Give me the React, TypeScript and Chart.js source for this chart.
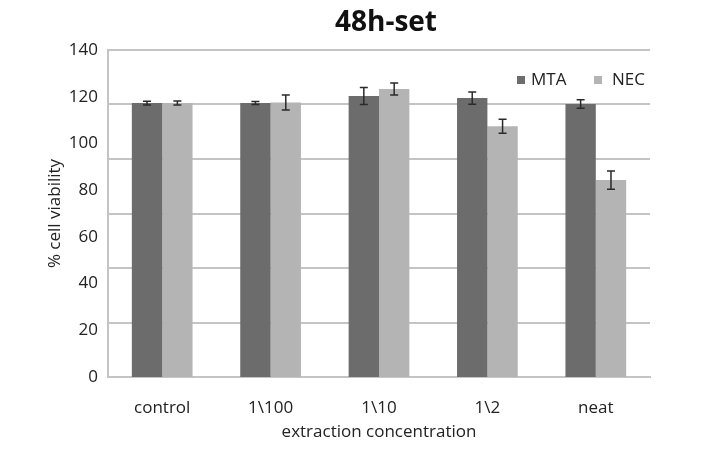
import React, { useEffect, useRef } from "react";
import { Chart, registerables } from "chart.js";

Chart.register(...registerables);

const chartTitle = "48h-set";
const categories = ["control", "1\\100", "1\\10", "1\\2", "neat"];
const seriesNames = ["MTA", "NEC"];
const mtaValues = [117.3, 117.3, 120.3, 119.4, 116.9];
const necValues = [117.3, 117.5, 123.3, 107.4, 84.3];
const mtaErrors = [0.8, 0.6, 3.6, 2.6, 1.8];
const necErrors = [0.9, 3.2, 2.6, 3.0, 3.9];
const yTickValues = [0, 20, 40, 60, 80, 100, 120, 140];
const xTitle = "extraction concentration";
const yTitle = "% cell viability";

const FONT = "'Open Sans', 'DejaVu Sans', sans-serif";
const TEXT = "#222222";
const GRID = "#c4c4c4";
const MTA_COLOR = "#6c6c6c";
const NEC_COLOR = "#b4b4b4";

const errorBarPlugin = {
  id: "errorBars",
  afterDatasetsDraw(chart: any) {
    const ctx = chart.ctx;
    const yScale = chart.scales.y;
    chart.data.datasets.forEach((ds: any, di: number) => {
      const meta = chart.getDatasetMeta(di);
      const errs: number[] = ds.errors || [];
      meta.data.forEach((el: any, i: number) => {
        const v = ds.data[i];
        const e = errs[i] || 0;
        const yTop = yScale.getPixelForValue(v + e);
        const yBot = yScale.getPixelForValue(v - e);
        ctx.save();
        ctx.strokeStyle = "#2a2a2a";
        ctx.lineWidth = 1.5;
        ctx.beginPath();
        ctx.moveTo(el.x, yTop);
        ctx.lineTo(el.x, yBot);
        ctx.moveTo(el.x - 4, yTop);
        ctx.lineTo(el.x + 4, yTop);
        ctx.moveTo(el.x - 4, yBot);
        ctx.lineTo(el.x + 4, yBot);
        ctx.stroke();
        ctx.restore();
      });
    });
  },
};

const titleLegendPlugin = {
  id: "titleLegend",
  afterDraw(chart: any) {
    const ctx = chart.ctx;
    const area = chart.chartArea;
    ctx.save();
    ctx.fillStyle = "#111111";
    ctx.font = `bold 28px ${FONT}`;
    ctx.textAlign = "center";
    ctx.textBaseline = "middle";
    ctx.fillText(chartTitle, (area.left + area.right) / 2 + 7, 23);

    const offsets = [133, 56];
    ctx.font = `17px ${FONT}`;
    ctx.textAlign = "left";
    chart.data.datasets.forEach((ds: any, i: number) => {
      const x = area.right - offsets[i];
      const y = area.top + 30;
      ctx.fillStyle = ds.backgroundColor;
      ctx.fillRect(x, y - 4, 8, 8);
      ctx.fillStyle = TEXT;
      ctx.fillText(ds.label, x + (i === 0 ? 14 : 18), y);
    });
    ctx.restore();
  },
};

export default function App() {
  const canvasRef = useRef<HTMLCanvasElement | null>(null);

  useEffect(() => {
    if (!canvasRef.current) return;
    const chart = new Chart(canvasRef.current, {
      type: "bar",
      data: {
        labels: categories,
        datasets: [
          {
            label: seriesNames[0],
            data: mtaValues,
            errors: mtaErrors,
            backgroundColor: MTA_COLOR,
            barPercentage: 1.0,
            categoryPercentage: 0.56,
            yAxisID: "y",
          } as any,
          {
            label: seriesNames[1],
            data: necValues,
            errors: necErrors,
            backgroundColor: NEC_COLOR,
            barPercentage: 1.0,
            categoryPercentage: 0.56,
            yAxisID: "y",
          } as any,
        ],
      },
      options: {
        responsive: false,
        animation: false,
        layout: { padding: { left: 35, right: 60, top: 50, bottom: 0 } },
        plugins: {
          legend: { display: false },
          title: { display: false },
          tooltip: { enabled: false },
        },
        scales: {
          x: {
            grid: { display: false, drawTicks: false },
            border: { display: true, color: GRID, width: 2 },
            ticks: {
              color: TEXT,
              font: { family: FONT, size: 17 },
              padding: 21,
            },
            title: {
              display: true,
              text: xTitle,
              color: TEXT,
              font: { family: FONT, size: 17 },
              padding: { top: 4, bottom: 11 },
            },
            afterFit: (s: any) => {
              s.height = 76;
            },
          },
          y: {
            position: "left",
            min: 0,
            max: 140,
            afterBuildTicks: (s: any) => {
              s.ticks = yTickValues.map((v) => ({ value: v }));
            },
            grid: { display: false, drawTicks: false },
            border: { display: true, color: GRID, width: 2 },
            ticks: {
              color: TEXT,
              font: { family: FONT, size: 17 },
              padding: 10,
            },
            title: {
              display: true,
              text: yTitle,
              color: TEXT,
              font: { family: FONT, size: 17 },
              padding: { top: 10, bottom: 0 },
            },
            afterFit: (s: any) => {
              s.width = 73;
            },
          },
          gridAxis: {
            position: "right",
            min: 0,
            max: 120,
            ticks: { display: false, stepSize: 20 },
            grid: { color: GRID, lineWidth: 2, drawTicks: false },
            border: { display: false },
            afterFit: (s: any) => {
              s.width = 0;
            },
          },
        },
      } as any,
      plugins: [errorBarPlugin, titleLegendPlugin],
    });
    return () => chart.destroy();
  }, []);

  return (
    <div style={{ position: "absolute", left: 0, top: 0, width: 710, height: 453, background: "#ffffff" }}>
      <canvas ref={canvasRef} width={710} height={453} />
    </div>
  );
}
